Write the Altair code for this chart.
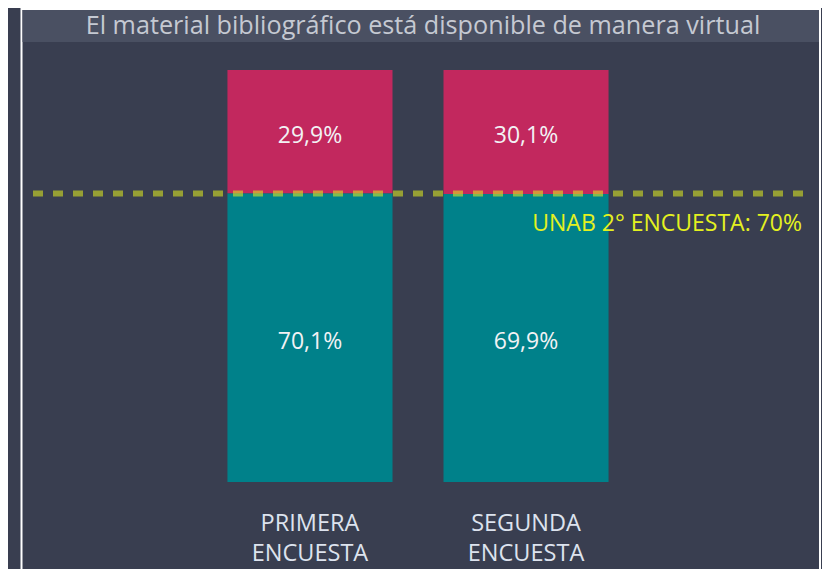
import altair as alt
import pandas as pd

# ---- data ----
encuestas = ["PRIMERA ENCUESTA", "SEGUNDA ENCUESTA"]
respuestas = ["Sí", "No"]
valores_si = [70.1, 69.9]
valores_no = [29.9, 30.1]
meta_valor = [70]
meta_texto = ["UNAB 2° ENCUESTA: 70%"]
titulo = "El material bibliográfico está disponible de manera virtual"

rows = []
for i, e in enumerate(encuestas):
    rows.append({"encuesta": e, "respuesta": respuestas[0], "valor": valores_si[i], "orden": 0})
    rows.append({"encuesta": e, "respuesta": respuestas[1], "valor": valores_no[i], "orden": 1})
df = pd.DataFrame(rows)
meta = pd.DataFrame({"valor": meta_valor, "texto": meta_texto})
one = pd.DataFrame({"t": [titulo]})

W, H = 770, 412
BG = "#393e50"
FONT = "Open Sans"

yscale = alt.Scale(domain=[0, 100], nice=False, zero=True)
xenc = alt.X(
    "encuesta:N",
    sort=encuestas,
    scale=alt.Scale(paddingInner=0.236, paddingOuter=0.9),
    axis=alt.Axis(
        title=None,
        labelExpr="split(datum.label, ' ')",
        domain=False,
        ticks=False,
        grid=False,
        labelAngle=0,
        labelFontSize=23.5,
        labelFont=FONT,
        labelColor="#dde3ee",
        labelPadding=29,
        labelLineHeight=30,
    ),
)

# decorative frame + title bar
frame = alt.Chart(one).mark_rect(fill=None, stroke="white", strokeWidth=2).encode(
    x=alt.value(-11.5), x2=alt.value(787), y=alt.value(-61), y2=alt.value(600)
)
titlebar = alt.Chart(one).mark_rect(color="#4a5062").encode(
    x=alt.value(-10.5), x2=alt.value(786), y=alt.value(-60), y2=alt.value(-28)
)
title = alt.Chart(one).mark_text(
    font=FONT, fontSize=25.2, color="#c5c9d2", baseline="alphabetic", align="center"
).encode(x=alt.value(390), y=alt.value(-36), text="t:N")

bars = alt.Chart(df).mark_bar().encode(
    x=xenc,
    y=alt.Y("valor:Q", stack="zero", scale=yscale, axis=None),
    color=alt.Color(
        "respuesta:N",
        scale=alt.Scale(domain=respuestas, range=["#00818a", "#c2285e"]),
        legend=None,
    ),
    order=alt.Order("orden:Q"),
)

labels = (
    alt.Chart(df)
    .transform_stack(stack="valor", groupby=["encuesta"], as_=["v0", "v1"],
                     sort=[alt.SortField("orden")])
    .transform_calculate(
        mid="(datum.v0 + datum.v1) / 2",
        etiqueta="replace(format(datum.valor, '.1f'), '.', ',') + '%'",
    )
    .mark_text(font=FONT, fontSize=23, color="#f2f2f5", baseline="middle", dy=4)
    .encode(x=xenc, y=alt.Y("mid:Q", scale=yscale, axis=None), text="etiqueta:N")
)

rule = alt.Chart(meta).mark_rule(
    color="#e6f01e", opacity=0.55, strokeWidth=6, strokeDash=[10, 10]
).encode(y=alt.Y("valor:Q", scale=yscale, axis=None))

meta_lbl = alt.Chart(meta).mark_text(
    font=FONT, fontSize=23, color="#e4f11f", align="right", baseline="middle", dy=30
).encode(x=alt.value(769), y=alt.Y("valor:Q", scale=yscale, axis=None), text="texto:N")

chart = (
    alt.layer(frame, titlebar, title, bars, labels, rule, meta_lbl)
    .properties(
        width=W,
        height=H,
        padding={"left": 25, "top": 62, "right": 19, "bottom": 87},
        autosize=alt.AutoSizeParams(type="none"),
        background=BG,
    )
    .configure_view(stroke=None)
)

chart.save("out.html", embed_options={"renderer": "svg", "actions": False})
